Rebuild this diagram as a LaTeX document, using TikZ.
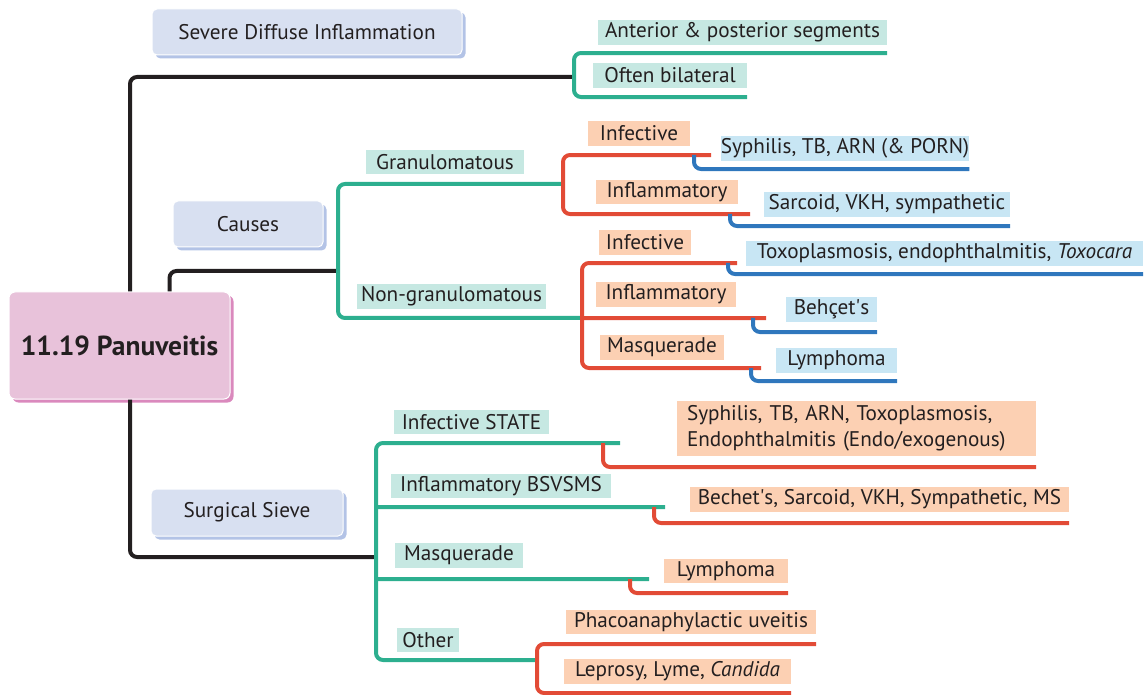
\documentclass[tikz,border=0pt]{standalone}
\usepackage{fontspec}
\setmainfont{PT Sans}
\usetikzlibrary{shadows}
\definecolor{txt}{HTML}{231F20}
\definecolor{tealL}{HTML}{2DAF8F}
\definecolor{redL}{HTML}{E24B36}
\definecolor{bluL}{HTML}{2F77BD}
\definecolor{tealBG}{HTML}{C6E8E2}
\definecolor{orgBG}{HTML}{FCD0B3}
\definecolor{bluBG}{HTML}{C8E6F4}
\definecolor{topBG}{HTML}{D8E0F1}
\definecolor{topSH}{HTML}{B3C3E6}
\definecolor{rootBG}{HTML}{E8C2DA}
\definecolor{rootSH}{HTML}{DA89BD}
\newcommand\lblfont{\fontsize{21.2}{26}\selectfont}
\tikzset{
  lbl/.style={inner sep=0pt, text=txt, font=\lblfont, anchor=center},
  tl/.style={lbl, fill=tealBG},
  ol/.style={lbl, fill=orgBG},
  bl/.style={lbl, fill=bluBG},
  topic/.style={fill=topBG, draw=white, line width=1pt, rounded corners=5pt, text=txt, font=\lblfont,
    drop shadow={shadow xshift=3.5pt, shadow yshift=-3.5pt, fill=topSH, opacity=1}},
  rootbox/.style={fill=rootBG, draw=white, line width=1pt, rounded corners=6pt, text=txt,
    font=\fontsize{27.5}{32}\selectfont\bfseries,
    drop shadow={shadow xshift=3.5pt, shadow yshift=-3.5pt, fill=rootSH, opacity=1}},
  conn/.style={line width=4pt, rounded corners=7pt},
  blk/.style={conn, draw=txt},
  grn/.style={conn, draw=tealL},
  redc/.style={conn, draw=redL},
  blu/.style={conn, draw=bluL},
}
\begin{document}
\begin{tikzpicture}[x=1pt, y=-1pt]
\useasboundingbox (0,0) rectangle (1144,695);

% ---------- nodes ----------
\node[rootbox, minimum width=221pt, minimum height=107pt] (root) at (119.5,345.5) {11.19 Panuveitis};
\node[topic, minimum width=310pt, minimum height=46pt] (sev) at (307,32) {Severe Diffuse Inflammation};
\node[topic, minimum width=150pt, minimum height=46pt] (causes) at (248,224) {Causes};
\node[topic, minimum width=192pt, minimum height=47pt] (sieve) at (247,512.5) {Surgical Sieve};

\node[tl, minimum width=289pt, minimum height=25pt] (ant) at (742.5,32.5) {Anterior \& posterior segments};
\node[tl, minimum width=154pt, minimum height=25pt] (often) at (670,75.5) {Often bilateral};

\node[tl, minimum width=158pt, minimum height=24pt] (gran) at (445,162) {Granulomatous};
\node[tl, minimum width=189pt, minimum height=25pt] (nongran) at (451.5,296.5) {Non-granulomatous};

\node[ol, minimum width=102pt, minimum height=25pt] (inf1) at (639,133.5) {Infective};
\node[ol, minimum width=142pt, minimum height=24pt] (infl1) at (667,192) {Inflammatory};
\node[bl, minimum width=242pt, minimum height=25pt] (syph1) at (845,148.5) {Syphilis, TB, ARN (\& PORN)};
\node[bl, minimum width=246pt, minimum height=25pt] (sarc) at (887,204.5) {Sarcoid, VKH, sympathetic};

\node[ol, minimum width=92pt, minimum height=25pt] (inf2) at (645,242.5) {Infective};
\node[ol, minimum width=140pt, minimum height=25pt] (infl2) at (666,294.5) {Inflammatory};
\node[ol, minimum width=124pt, minimum height=25pt] (masq1) at (662,347.5) {Masquerade};
\node[bl, minimum width=397pt, minimum height=25pt] (toxo) at (944.5,253.5) {Toxoplasmosis, endophthalmitis, \textit{Toxocara}};
\node[bl, minimum width=91pt, minimum height=25pt] (behcet) at (831.5,309.5) {Behçet\textquotesingle s};
\node[bl, minimum width=121pt, minimum height=25pt] (lymph1) at (836.5,360.5) {Lymphoma};

\node[tl, minimum width=155pt, minimum height=24pt] (infstate) at (471.5,422) {Infective STATE};
\node[tl, minimum width=220pt, minimum height=24pt] (inflb) at (501,486) {Inflammatory BSVSMS};
\node[tl, minimum width=128pt, minimum height=25pt] (masq2) at (459,555.5) {Masquerade};
\node[tl, minimum width=62pt, minimum height=24pt] (other) at (428,640) {Other};

\node[ol, inner xsep=10pt, text width=339pt, align=left, minimum height=55pt] (syph2) at (856.5,428.5)
  {Syphilis, TB, ARN, Toxoplasmosis,\\Endophthalmitis (Endo/exogenous)};
\node[ol, minimum width=379pt, minimum height=25pt] (bechet) at (879.5,499.5) {Bechet\textquotesingle s, Sarcoid, VKH, Sympathetic, MS};
\node[ol, minimum width=124pt, minimum height=24pt] (lymph2) at (726,571) {Lymphoma};
\node[ol, minimum width=250pt, minimum height=24pt] (phaco) at (691,622) {Phacoanaphylactic uveitis};
\node[ol, minimum width=227pt, minimum height=25pt] (lep) at (677.5,671.5) {Leprosy, Lyme, \textit{Candida}};

% ---------- junction coordinates ----------
\coordinate (jA) at (574,77);
\coordinate (jB) at (338,271);
\coordinate (jC) at (376,557);
\coordinate (jG) at (563,184);
\coordinate (jN) at (582,318);
\coordinate (jO) at (537,660);

% ---------- connectors ----------
\draw[blk] ([xshift=10.5pt]root.north) |- (jA);
\draw[blk] ([xshift=50pt]root.north) |- (jB);
\draw[blk] ([xshift=10.5pt]root.south) |- (jC);

% severe diffuse
\draw[grn] ([yshift=-8pt]ant.south east) -- (574,53) -- (574,97) -- ([yshift=-9pt]often.south east);

% causes
\draw[grn] (jG) -- (338,184) -- (338,318) -- (jN);
\draw[redc] ([xshift=21pt,yshift=-9pt]inf1.south east) -- (563,155) -- (563,214) -- ([xshift=12pt,yshift=-10pt]infl1.south east);
\draw[blu] (694,155) -- (694,169) -- ([yshift=-8pt]syph1.south east);
\draw[blu] (730,214) -- (730,226) -- ([yshift=-9pt]sarc.south east);

\draw[redc] ([xshift=46pt,yshift=-8pt]inf2.south east) -- (582,263) -- (582,368) -- ([xshift=37pt,yshift=-8pt]masq1.south east);
\draw[redc] (jN) -- ([xshift=30pt,yshift=-11pt]infl2.south east);
\draw[blu] (728,263) -- (728,274) -- ([yshift=-8pt]toxo.south east);
\draw[blu] (753,318) -- (753,332) -- ([yshift=-10pt]behcet.south east);
\draw[blu] (751,368) -- (751,381) -- ([yshift=-8pt]lymph1.south east);

% surgical sieve
\draw[grn] ([xshift=71pt,yshift=-9pt]infstate.south east) -- (376,443) -- (376,660) -- (jO);
\draw[grn] (376,507) -- ([xshift=54pt,yshift=-9pt]inflb.south east);
\draw[grn] (376,579) -- ([xshift=126pt,yshift=-11pt]masq2.south east);
\draw[redc] (603,443) -- (603,467) -- ([yshift=-11pt]syph2.south east);
\draw[redc] (654,507) -- (654,523) -- ([yshift=-11pt]bechet.south east);
\draw[redc] (630,579) -- (630,593) -- ([yshift=-10pt]lymph2.south east);
\draw[redc] ([yshift=-10pt]phaco.south east) -- (537,644) -- (537,693) -- ([yshift=-9pt]lep.south east);
\end{tikzpicture}
\end{document}
